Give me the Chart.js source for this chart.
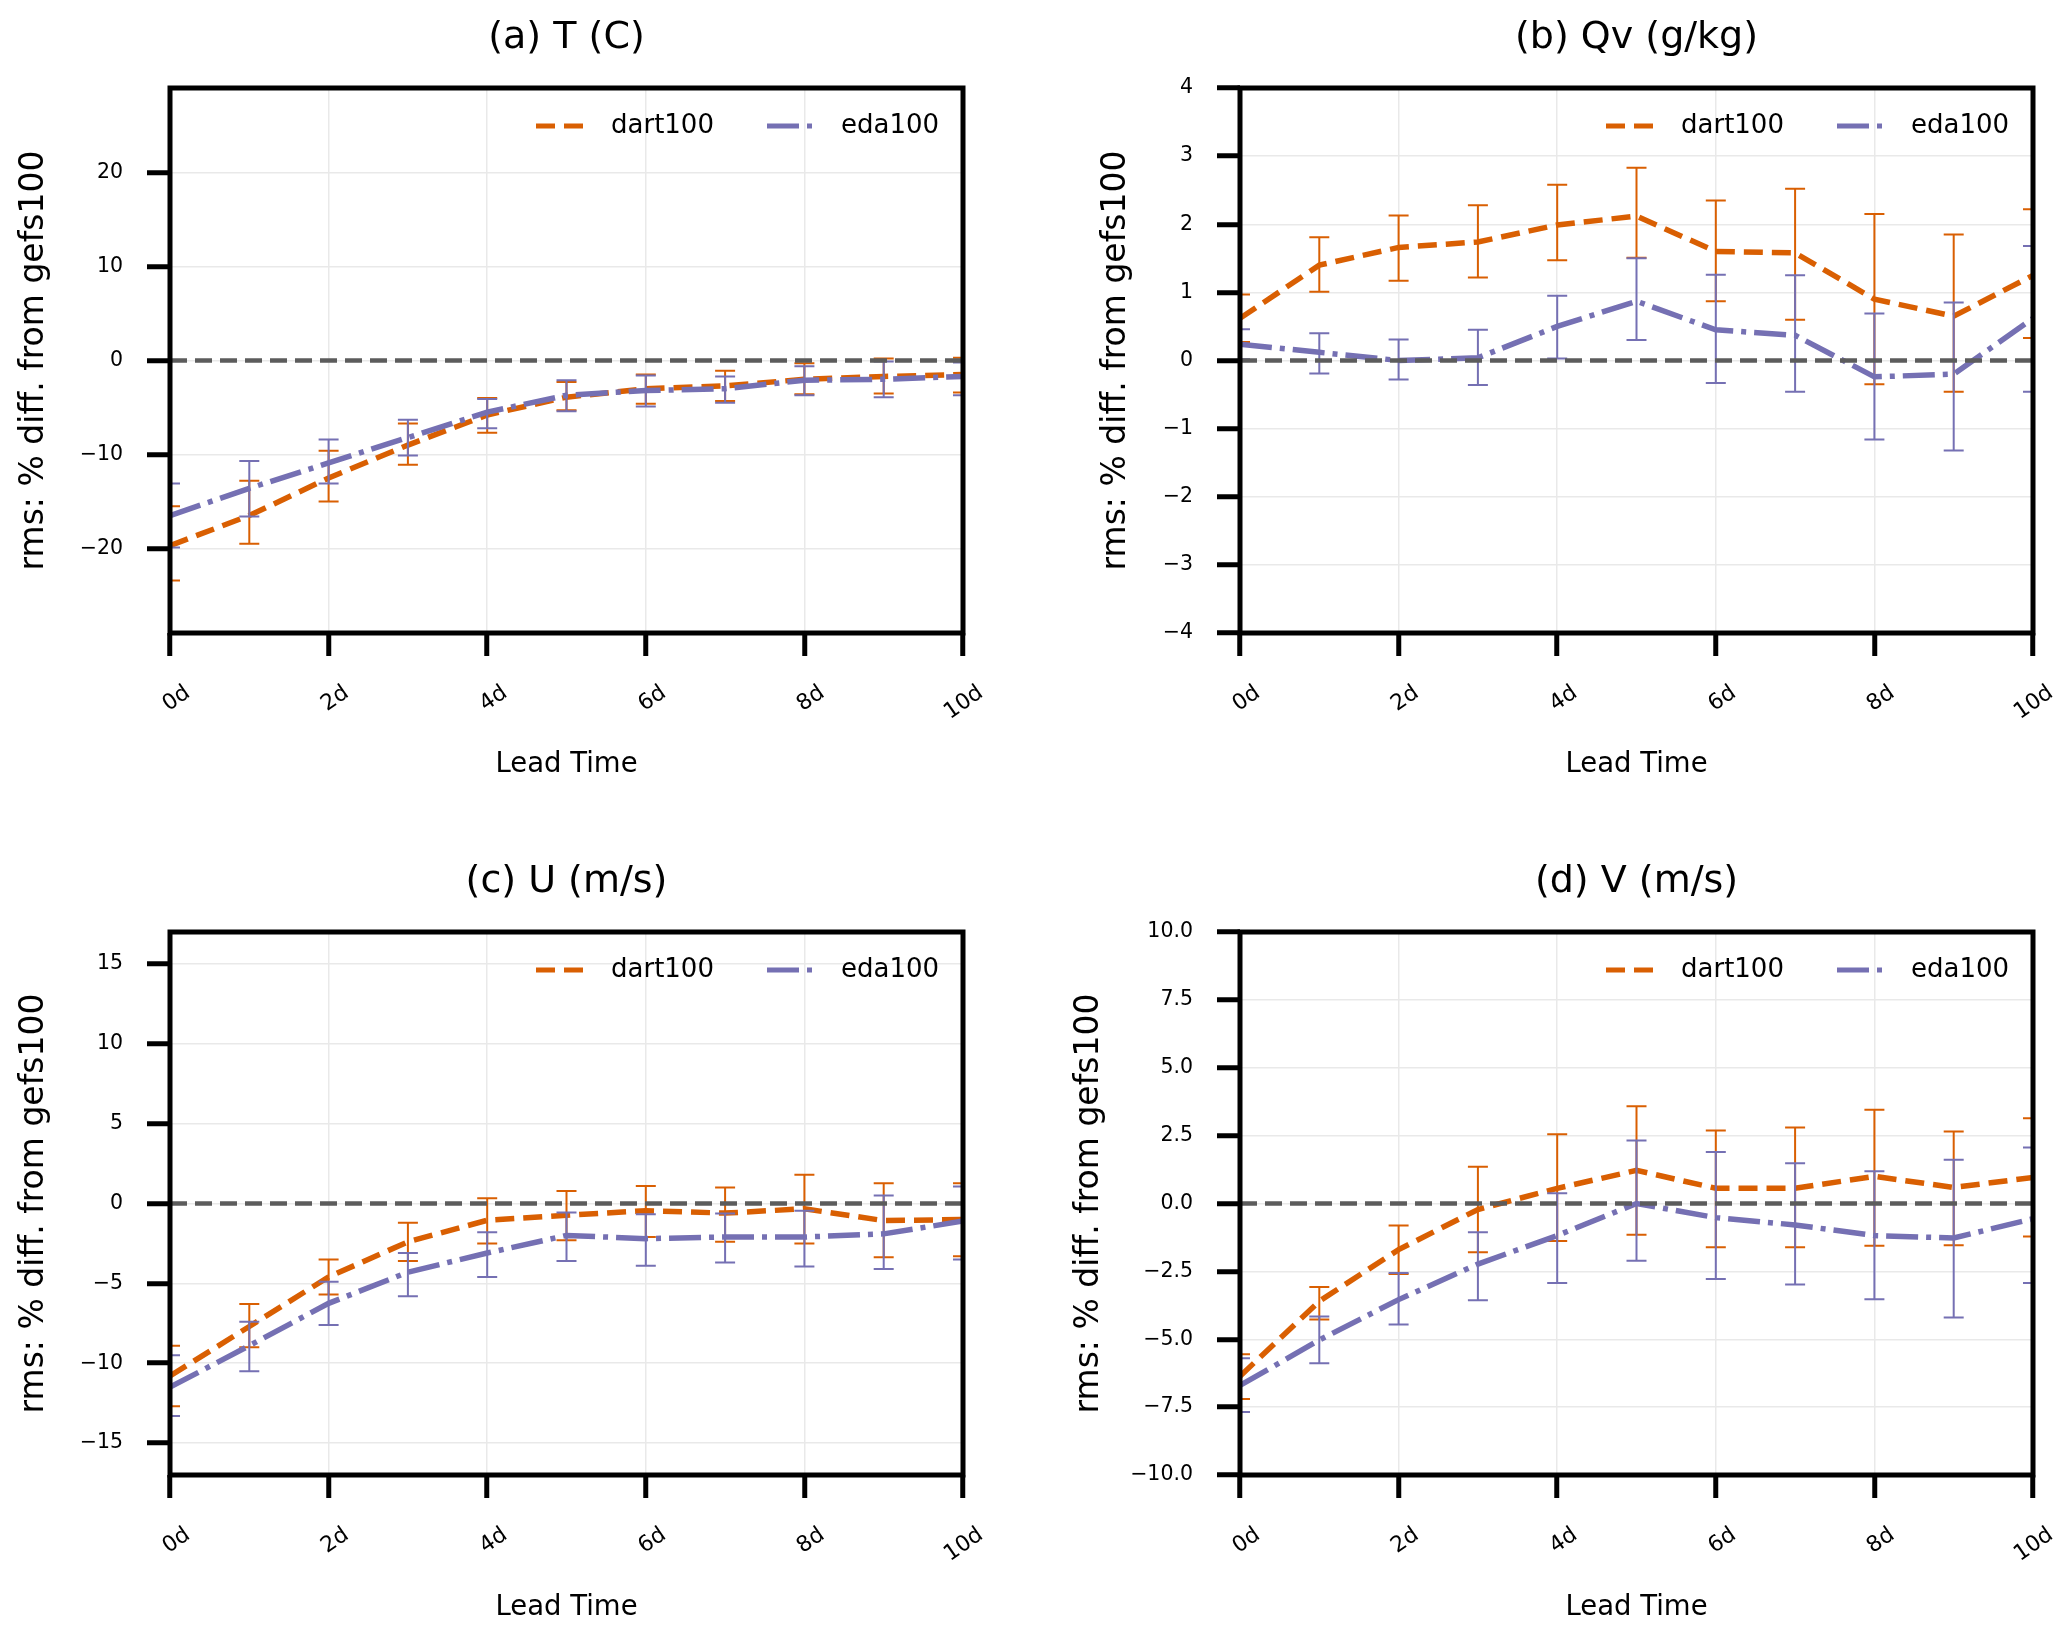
<!DOCTYPE html>
<html>
<head>
<meta charset="utf-8">
<script src="https://cdn.jsdelivr.net/npm/chart.js@4.4.1/dist/chart.umd.min.js"></script>
<style>
  body { margin: 0; background: #fff; width: 2067px; height: 1633px; position: relative; overflow: hidden; }
  canvas { position: absolute; }
</style>
</head>
<body>
<canvas id="panelA"></canvas>
<canvas id="panelB"></canvas>
<canvas id="panelC"></canvas>
<canvas id="panelD"></canvas>
<script>
// lead time axis
const leadDays = [0, 1, 2, 3, 4, 5, 6, 7, 8, 9, 10];
const xTicks = [0, 2, 4, 6, 8, 10];
const xTickLabels = ["0d", "2d", "4d", "6d", "8d", "10d"];
const seriesNames = ["dart100", "eda100"];
const refLevel = 0;

// (a) T
const tDart   = [-19.7, -16.5, -12.5, -9.0, -5.8, -3.9, -3.0, -2.7, -2.0, -1.7, -1.5];
const tDartLo = [-23.4, -19.5, -15.0, -11.1, -7.7, -5.3, -4.6, -4.3, -3.6, -3.5, -3.4];
const tDartHi = [-15.5, -12.8, -9.6, -6.7, -4.0, -2.3, -1.5, -1.1, -0.3, 0.2, 0.3];
const tEda    = [-16.5, -13.6, -10.9, -8.2, -5.5, -3.7, -3.2, -3.0, -2.1, -2.0, -1.7];
const tEdaLo  = [-19.9, -16.6, -13.1, -10.1, -7.2, -5.4, -4.9, -4.5, -3.7, -3.9, -3.7];
const tEdaHi  = [-13.1, -10.7, -8.4, -6.3, -4.1, -2.1, -1.6, -1.7, -0.6, -0.1, -0.2];
const tYTicks = [-20, -10, 0, 10, 20];

// (b) Qv
const qDart   = [0.62, 1.40, 1.66, 1.74, 1.99, 2.12, 1.60, 1.58, 0.90, 0.65, 1.25];
const qDartLo = [0.27, 1.01, 1.17, 1.22, 1.47, 1.51, 0.87, 0.60, -0.35, -0.46, 0.33];
const qDartHi = [0.97, 1.81, 2.13, 2.28, 2.58, 2.83, 2.35, 2.52, 2.15, 1.85, 2.22];
const qEda    = [0.24, 0.12, 0.00, 0.04, 0.50, 0.87, 0.45, 0.37, -0.24, -0.20, 0.62];
const qEdaLo  = [0.02, -0.19, -0.28, -0.36, 0.03, 0.30, -0.33, -0.46, -1.16, -1.32, -0.46];
const qEdaHi  = [0.46, 0.40, 0.31, 0.45, 0.95, 1.50, 1.26, 1.25, 0.69, 0.85, 1.68];
const qYTicks = [-4, -3, -2, -1, 0, 1, 2, 3, 4];

// (c) U
const uDart   = [-10.8, -7.7, -4.6, -2.4, -1.05, -0.74, -0.45, -0.6, -0.33, -1.07, -1.0];
const uDartLo = [-12.7, -9.0, -5.7, -3.6, -2.5, -2.3, -2.1, -2.4, -2.5, -3.37, -3.3];
const uDartHi = [-8.9, -6.3, -3.5, -1.2, 0.33, 0.78, 1.1, 1.0, 1.8, 1.27, 1.27];
const uEda    = [-11.5, -8.9, -6.25, -4.3, -3.1, -2.0, -2.2, -2.1, -2.1, -1.9, -1.1];
const uEdaLo  = [-13.3, -10.5, -7.6, -5.8, -4.6, -3.6, -3.9, -3.7, -3.95, -4.1, -3.5];
const uEdaHi  = [-9.5, -7.4, -4.9, -3.1, -1.8, -0.56, -0.67, -0.63, -0.45, 0.5, 1.07];
const uYTicks = [-15, -10, -5, 0, 5, 10, 15];

// (d) V
const vDart   = [-6.36, -3.6, -1.7, -0.22, 0.56, 1.22, 0.56, 0.56, 1.0, 0.59, 0.96];
const vDartLo = [-7.2, -4.27, -2.6, -1.8, -1.38, -1.15, -1.61, -1.61, -1.56, -1.54, -1.22];
const vDartHi = [-5.55, -3.08, -0.81, 1.35, 2.55, 3.58, 2.69, 2.8, 3.45, 2.65, 3.14];
const vEda    = [-6.7, -5.03, -3.54, -2.23, -1.18, 0.0, -0.52, -0.79, -1.18, -1.27, -0.56];
const vEdaLo  = [-7.68, -5.88, -4.46, -3.56, -2.93, -2.11, -2.78, -2.98, -3.53, -4.2, -2.93];
const vEdaHi  = [-5.7, -4.16, -2.56, -1.06, 0.38, 2.32, 1.9, 1.48, 1.19, 1.61, 2.06];
const vYTicks = [-10, -7.5, -5, -2.5, 0, 2.5, 5, 7.5, 10];

const ORANGE = "#d95f02";
const PURPLE = "#7570b3";
const FONT = "'DejaVu Sans', sans-serif";
const PLOT_TOP = 88;

const fmt = (v, d) => (v < 0 ? "\u2212" : "") + Math.abs(v).toFixed(d);
const pts = (ys) => ys.map((y, i) => ({ x: leadDays[i], y }));

// error bars, drawn right after their own line
const errorBars = {
  id: "errorBars",
  afterDatasetDraw(chart, args) {
    const ds = chart.data.datasets[args.index];
    if (!ds.errLow) return;
    const { ctx, chartArea: ca, scales: { x, y } } = chart;
    ctx.save();
    ctx.beginPath();
    ctx.rect(ca.left, ca.top, ca.width, ca.height);
    ctx.clip();
    ctx.strokeStyle = ds.borderColor;
    ctx.lineWidth = 2;
    ds.errLow.forEach((lo, i) => {
      const px = x.getPixelForValue(leadDays[i]);
      const p1 = y.getPixelForValue(lo);
      const p2 = y.getPixelForValue(ds.errHigh[i]);
      ctx.beginPath();
      ctx.moveTo(px, p1); ctx.lineTo(px, p2);
      ctx.moveTo(px - 10, p1); ctx.lineTo(px + 10, p1);
      ctx.moveTo(px - 10, p2); ctx.lineTo(px + 10, p2);
      ctx.stroke();
    });
    ctx.restore();
  }
};

// frame + legend inside the axes
const frameLegend = {
  id: "frameLegend",
  afterDraw(chart) {
    const { ctx, chartArea: ca } = chart;
    ctx.save();
    ctx.strokeStyle = "#000";
    ctx.lineWidth = 5;
    ctx.setLineDash([]);
    ctx.strokeRect(ca.left, ca.top, ca.width, ca.height);

    const ly = ca.top + 38;
    const spots = [[366, 441], [597, 671]];
    [0, 1].forEach((k) => {
      const ds = chart.data.datasets[k];
      const [s, t] = spots[k];
      ctx.beginPath();
      ctx.strokeStyle = ds.borderColor;
      ctx.lineWidth = 5;
      ctx.lineCap = "butt";
      ctx.setLineDash(ds.borderDash);
      ctx.moveTo(ca.left + s, ly);
      ctx.lineTo(ca.left + s + 50, ly);
      ctx.stroke();
      ctx.setLineDash([]);
      ctx.fillStyle = "#000";
      ctx.font = "26px " + FONT;
      ctx.textBaseline = "middle";
      ctx.textAlign = "left";
      ctx.fillText(ds.label, ca.left + t, ly);
    });
    ctx.restore();
  }
};

function makePanel(cfg) {
  const canvas = document.getElementById(cfg.id);
  canvas.width = 1010;
  canvas.height = cfg.h;
  canvas.style.left = cfg.left + "px";
  canvas.style.top = cfg.top + "px";
  canvas.style.width = "1010px";
  canvas.style.height = cfg.h + "px";

  new Chart(canvas.getContext("2d"), {
    type: "line",
    data: {
      datasets: [
        {
          label: seriesNames[0],
          data: pts(cfg.dart),
          errLow: cfg.dartLo,
          errHigh: cfg.dartHi,
          borderColor: ORANGE,
          borderWidth: 5.5,
          borderDash: [19, 9],
          borderCapStyle: "butt",
          pointRadius: 0,
          order: 3,
        },
        {
          label: seriesNames[1],
          data: pts(cfg.eda),
          errLow: cfg.edaLo,
          errHigh: cfg.edaHi,
          borderColor: PURPLE,
          borderWidth: 5.5,
          borderDash: [32, 8, 5, 8],
          borderCapStyle: "butt",
          pointRadius: 0,
          order: 2,
        },
        {
          label: "zero",
          data: [{ x: leadDays[0], y: refLevel }, { x: leadDays[leadDays.length - 1], y: refLevel }],
          borderColor: "#5c5c5c",
          borderWidth: 4.5,
          borderDash: [17, 8],
          borderCapStyle: "butt",
          pointRadius: 0,
          order: 1,
        },
      ],
    },
    options: {
      responsive: false,
      animation: false,
      devicePixelRatio: 1,
      layout: { padding: { top: 0, left: 0, bottom: 0, right: 47 } },
      plugins: {
        legend: { display: false },
        tooltip: { enabled: false },
        title: {
          display: true,
          fullSize: false,
          text: cfg.title,
          color: "#000",
          font: { family: FONT, size: 38, weight: "normal" },
          padding: { top: 15, bottom: PLOT_TOP - 15 - 38 * 1.2 },
        },
      },
      scales: {
        x: {
          type: "linear",
          min: leadDays[0],
          max: leadDays[leadDays.length - 1],
          afterBuildTicks: (s) => { s.ticks = xTicks.map((v) => ({ value: v })); },
          afterFit: (s) => { s.height = cfg.h - cfg.plotBottom; },
          ticks: {
            autoSkip: false,
            minRotation: 35,
            maxRotation: 35,
            labelOffset: 18,
            padding: 24,
            color: "#000",
            font: { family: FONT, size: 22 },
            callback: (v) => xTickLabels[xTicks.indexOf(v)],
          },
          grid: { color: "#e9e9e9", lineWidth: 1.5, tickColor: "#000", tickLength: 23, tickWidth: 5 },
          border: { display: false },
          title: {
            display: true,
            text: "Lead Time",
            color: "#000",
            font: { family: FONT, size: 27.5 },
            padding: { top: 0, bottom: 9 },
          },
        },
        y: {
          type: "linear",
          min: cfg.yMin,
          max: cfg.yMax,
          afterBuildTicks: (s) => { s.ticks = cfg.yTicks.map((v) => ({ value: v })); },
          afterFit: (s) => { s.width = 170; },
          ticks: {
            padding: 24,
            color: "#000",
            font: { family: FONT, size: 20.5 },
            callback: (v) => fmt(v, cfg.decimals),
          },
          grid: { color: "#e9e9e9", lineWidth: 1.5, tickColor: "#000", tickLength: 23, tickWidth: 5 },
          border: { display: false },
          title: {
            display: true,
            text: "rms: % diff. from gefs100",
            color: "#000",
            font: { family: FONT, size: 33 },
            padding: { top: cfg.yTitlePad, bottom: 0 },
          },
        },
      },
    },
    plugins: [errorBars, frameLegend],
  });
}

makePanel({ id: "panelA", title: "(a) T (C)", left: 0, top: 0, h: 790, plotBottom: 633,
  yMin: -29, yMax: 29, yTicks: tYTicks, decimals: 0, yTitlePad: 15,
  dart: tDart, dartLo: tDartLo, dartHi: tDartHi, eda: tEda, edaLo: tEdaLo, edaHi: tEdaHi });

makePanel({ id: "panelB", title: "(b) Qv (g/kg)", left: 1070, top: 0, h: 790, plotBottom: 633,
  yMin: -4, yMax: 4, yTicks: qYTicks, decimals: 0, yTitlePad: 27,
  dart: qDart, dartLo: qDartLo, dartHi: qDartHi, eda: qEda, edaLo: qEdaLo, edaHi: qEdaHi });

makePanel({ id: "panelC", title: "(c) U (m/s)", left: 0, top: 844, h: 789, plotBottom: 631,
  yMin: -17, yMax: 17, yTicks: uYTicks, decimals: 0, yTitlePad: 15,
  dart: uDart, dartLo: uDartLo, dartHi: uDartHi, eda: uEda, edaLo: uEdaLo, edaHi: uEdaHi });

makePanel({ id: "panelD", title: "(d) V (m/s)", left: 1070, top: 844, h: 789, plotBottom: 631,
  yMin: -10, yMax: 10, yTicks: vYTicks, decimals: 1, yTitlePad: 0,
  dart: vDart, dartLo: vDartLo, dartHi: vDartHi, eda: vEda, edaLo: vEdaLo, edaHi: vEdaHi });
</script>
</body>
</html>
